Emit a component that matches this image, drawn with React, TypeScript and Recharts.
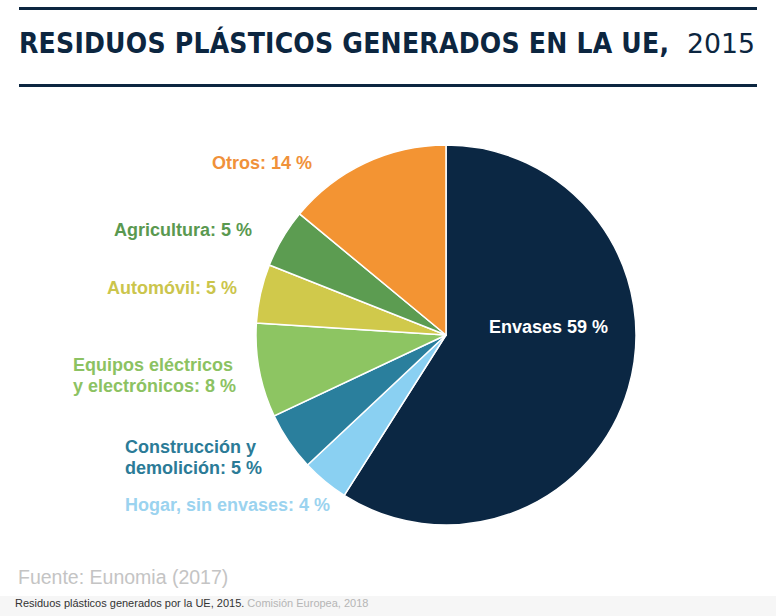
import * as React from 'react';
import { PieChart, Pie, Cell } from 'recharts';

// data, clockwise from 12 o'clock
const sectors = [
  'Envases',
  'Hogar, sin envases',
  'Construcción y demolición',
  'Equipos eléctricos y electrónicos',
  'Automóvil',
  'Agricultura',
  'Otros',
];
const shares = [59, 4, 5, 8, 5, 5, 14];
const labelLines = [
  ['Envases'],
  ['Hogar, sin envases:'],
  ['Construcción y', 'demolición:'],
  ['Equipos eléctricos', 'y electrónicos:'],
  ['Automóvil:'],
  ['Agricultura:'],
  ['Otros:'],
];

const sliceColors = ['#0b2743', '#8ad0f2', '#2a7f9d', '#8dc562', '#d0c94b', '#5c9c51', '#f39433'];
const textColors = ['#ffffff', '#9bd3ef', '#2b7b97', '#8cc262', '#cbc54c', '#5a9950', '#f0913a'];

// label placement relative to the pie centre
const labelPlace = [
  { dx: 43, dy: -8, anchor: 'start' },
  { dx: -321, dy: 170, anchor: 'start' },
  { dx: -321, dy: 112, anchor: 'start' },
  { dx: -373, dy: 30, anchor: 'start' },
  { dx: -209, dy: -47, anchor: 'end' },
  { dx: -194, dy: -105, anchor: 'end' },
  { dx: -134, dy: -172, anchor: 'end' },
];

const data = sectors.map((name, i) => ({ name, value: shares[i] }));

const NAVY = '#0c2640';

function renderLabel(props: any) {
  const { cx, cy, index } = props;
  const p = labelPlace[index];
  const lines = labelLines[index].slice();
  lines[lines.length - 1] = lines[lines.length - 1] + ' ' + shares[index] + ' %';
  return (
    <text
      x={cx + p.dx}
      y={cy + p.dy}
      textAnchor={p.anchor}
      dominantBaseline="central"
      fill={textColors[index]}
      fontFamily="'Liberation Sans', Arial, sans-serif"
      fontWeight="bold"
      fontSize={18}
    >
      {lines.map((l, k) => (
        <tspan key={k} x={cx + p.dx} dy={k === 0 ? 0 : 21}>
          {l}
        </tspan>
      ))}
    </text>
  );
}

export default function App() {
  return (
    <div style={{ position: 'absolute', left: 0, top: 0, width: 776, height: 616, background: '#fff', overflow: 'hidden' }}>
      <svg width={776} height={100} style={{ position: 'absolute', left: 0, top: 0 }}>
        <rect x={19} y={7} width={738} height={3} fill={NAVY} />
        <text
          x={19}
          y={53}
          fill={NAVY}
          fontFamily="'DejaVu Sans Condensed', 'DejaVu Sans', sans-serif"
          fontWeight="bold"
          fontSize={28}
          textLength={650}
          lengthAdjust="spacing"
        >
          RESIDUOS PLÁSTICOS GENERADOS EN LA UE,
        </text>
        <text x={687} y={53} fill={NAVY} fontFamily="'DejaVu Sans', sans-serif" fontSize={27} textLength={68} lengthAdjust="spacingAndGlyphs">
          2015
        </text>
        <rect x={19} y={84} width={738} height={3} fill={NAVY} />
      </svg>

      <div style={{ position: 'absolute', left: 0, top: 0 }}>
        <PieChart width={776} height={616} margin={{ top: 0, right: 0, bottom: 0, left: 0 }}>
          <Pie
            data={data}
            dataKey="value"
            nameKey="name"
            cx={446}
            cy={335}
            outerRadius={190}
            startAngle={90}
            endAngle={-270}
            stroke="#ffffff"
            strokeWidth={1.5}
            label={renderLabel}
            labelLine={false}
            isAnimationActive={false}
          >
            {data.map((d, i) => (
              <Cell key={d.name} fill={sliceColors[i]} />
            ))}
          </Pie>
        </PieChart>
      </div>

      <div
        style={{
          position: 'absolute',
          left: 18,
          top: 566,
          fontFamily: "'Liberation Sans', Arial, sans-serif",
          fontSize: 19.5,
          color: '#c4c4c4',
          whiteSpace: 'nowrap',
        }}
      >
        Fuente: Eunomia (2017)
      </div>
      <div style={{ position: 'absolute', left: 0, top: 596, width: 776, height: 20, background: '#f6f6f6' }} />
      <div
        style={{
          position: 'absolute',
          left: 15,
          top: 597,
          fontFamily: "'Liberation Sans', Arial, sans-serif",
          fontSize: 11,
          color: '#333',
          whiteSpace: 'nowrap',
        }}
      >
        Residuos plásticos generados por la UE, 2015. <span style={{ color: '#b5b5b5' }}>Comisión Europea, 2018</span>
      </div>
    </div>
  );
}
